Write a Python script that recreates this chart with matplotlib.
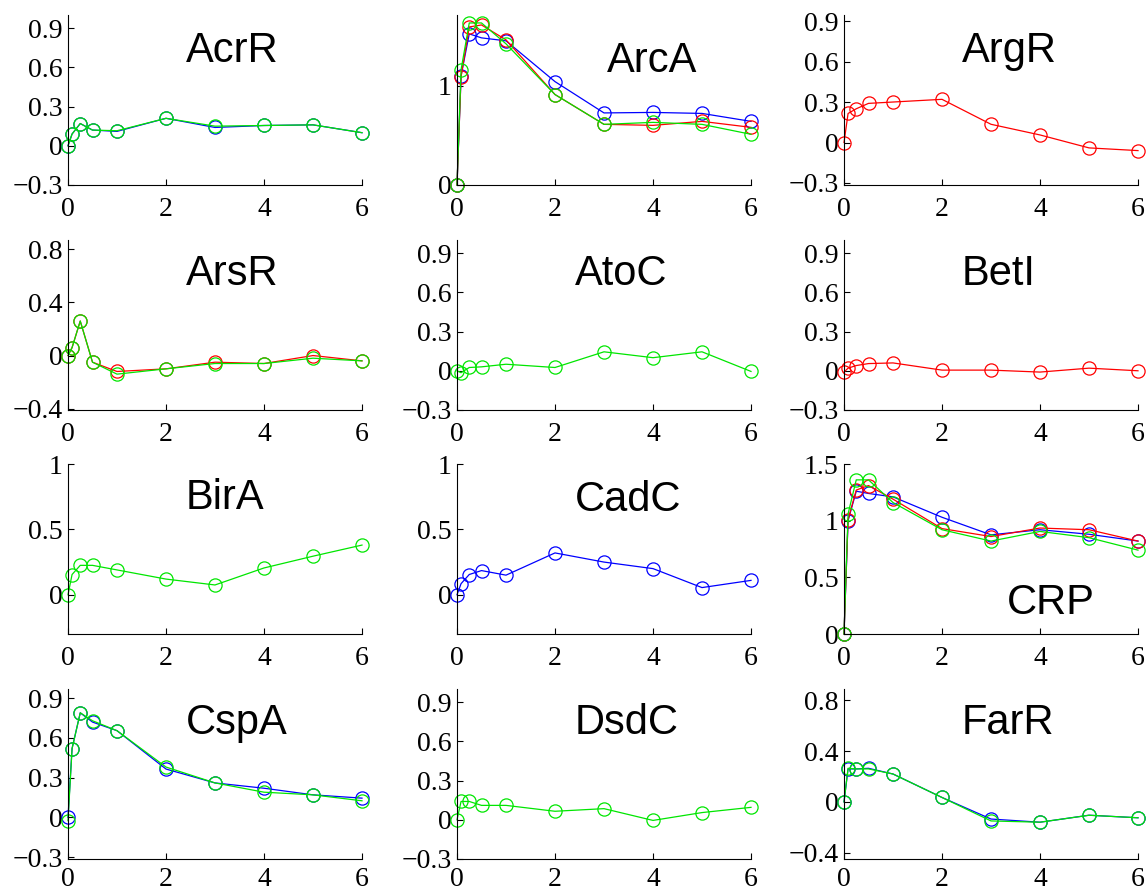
import matplotlib
matplotlib.use("Agg")
import matplotlib.pyplot as plt
from matplotlib.ticker import FuncFormatter

# ---- data ----
time_h = [0, 0.083, 0.25, 0.5, 1, 2, 3, 4, 5, 6]

names = ["AcrR", "ArcA", "ArgR", "ArsR", "AtoC", "BetI",
         "BirA", "CadC", "CRP", "CspA", "DsdC", "FarR"]

acrR_blue  = [0, 0.09, 0.17, 0.12, 0.11, 0.21, 0.14, 0.155, 0.16, 0.10]
acrR_green = [0, 0.09, 0.17, 0.12, 0.115, 0.21, 0.15, 0.155, 0.16, 0.10]

arcA_blue  = [0, 1.10, 1.52, 1.48, 1.45, 1.04, 0.725, 0.73, 0.72, 0.64]
arcA_red   = [0, 1.09, 1.59, 1.61, 1.46, 0.91, 0.61, 0.60, 0.64, 0.58]
arcA_green = [0, 1.16, 1.63, 1.63, 1.42, 0.91, 0.61, 0.63, 0.61, 0.51]

argR_red = [0, 0.215, 0.25, 0.29, 0.30, 0.32, 0.135, 0.056, -0.04, -0.06]

arsR_red   = [0, 0.06, 0.26, -0.05, -0.12, -0.10, -0.05, -0.06, 0.0, -0.04]
arsR_green = [0, 0.06, 0.26, -0.05, -0.14, -0.10, -0.06, -0.06, -0.02, -0.04]

atoC_green = [0, -0.015, 0.025, 0.03, 0.05, 0.025, 0.145, 0.10, 0.145, -0.005]

betI_red = [-0.01, 0.02, 0.04, 0.055, 0.06, 0.005, 0.005, -0.01, 0.02, 0.0]

birA_green = [0, 0.155, 0.225, 0.225, 0.19, 0.12, 0.075, 0.205, 0.295, 0.38]

cadC_blue = [0, 0.085, 0.155, 0.185, 0.15, 0.32, 0.25, 0.20, 0.055, 0.11]

crp_blue  = [0, 1.00, 1.26, 1.24, 1.21, 1.03, 0.875, 0.92, 0.88, 0.82]
crp_red   = [0, 1.01, 1.27, 1.31, 1.19, 0.93, 0.86, 0.935, 0.92, 0.82]
crp_green = [0, 1.06, 1.36, 1.36, 1.16, 0.92, 0.82, 0.905, 0.85, 0.74]

cspA_blue  = [0, 0.52, 0.79, 0.72, 0.655, 0.365, 0.26, 0.22, 0.17, 0.145]
cspA_green = [-0.025, 0.52, 0.79, 0.73, 0.655, 0.38, 0.26, 0.19, 0.17, 0.125]

dsdC_green = [0, 0.14, 0.14, 0.11, 0.11, 0.065, 0.085, -0.005, 0.055, 0.095]

farR_blue  = [0, 0.26, 0.26, 0.265, 0.22, 0.035, -0.135, -0.16, -0.105, -0.125]
farR_green = [0, 0.265, 0.26, 0.26, 0.22, 0.035, -0.15, -0.16, -0.105, -0.125]

x_ticks = [0, 2, 4, 6]

# ---- styling / layout ----
BLUE, RED, GREEN = "#0000ff", "#ff0000", "#00e600"

panels = [
    ("AcrR", [(BLUE, acrR_blue), (GREEN, acrR_green)], (-0.3, 1.0), [-0.3, 0, 0.3, 0.6, 0.9], (2.4, 0.79)),
    ("ArcA", [(BLUE, arcA_blue), (RED, arcA_red), (GREEN, arcA_green)], (0, 1.71), [0, 1], (3.05, 0.73)),
    ("ArgR", [(RED, argR_red)], (-0.315, 0.945), [-0.3, 0, 0.3, 0.6, 0.9], (2.4, 0.79)),
    ("ArsR", [(RED, arsR_red), (GREEN, arsR_green)], (-0.41, 0.87), [-0.4, 0, 0.4, 0.8], (2.4, 0.80)),
    ("AtoC", [(GREEN, atoC_green)], (-0.3, 1.0), [-0.3, 0, 0.3, 0.6, 0.9], (2.4, 0.80)),
    ("BetI", [(RED, betI_red)], (-0.3, 1.0), [-0.3, 0, 0.3, 0.6, 0.9], (2.4, 0.80)),
    ("BirA", [(GREEN, birA_green)], (-0.3, 1.0), [0, 0.5, 1], (2.4, 0.80)),
    ("CadC", [(BLUE, cadC_blue)], (-0.3, 1.0), [0, 0.5, 1], (2.4, 0.79)),
    ("CRP", [(BLUE, crp_blue), (RED, crp_red), (GREEN, crp_green)], (0, 1.5), [0, 0.5, 1, 1.5], (3.33, 0.18)),
    ("CspA", [(BLUE, cspA_blue), (GREEN, cspA_green)], (-0.315, 0.97), [-0.3, 0, 0.3, 0.6, 0.9], (2.4, 0.80)),
    ("DsdC", [(GREEN, dsdC_green)], (-0.3, 1.0), [-0.3, 0, 0.3, 0.6, 0.9], (2.4, 0.80)),
    ("FarR", [(BLUE, farR_blue), (GREEN, farR_green)], (-0.45, 0.89), [-0.4, 0, 0.4, 0.8], (2.4, 0.80)),
]

W, H = 1146, 892
fig = plt.figure(figsize=(W / 100, H / 100), dpi=100)
col_left = [68, 457, 844]
row_top = [15, 240, 464, 689]
ax_w, ax_h = 294, 170


def fmt(v, pos):
    s = "%g" % v
    return s.replace("-", "\u2212")


for i, (name, series, ylim, yt, tpos) in enumerate(panels):
    r, c = divmod(i, 3)
    left = col_left[c] / W
    bottom = 1 - (row_top[r] + ax_h) / H
    ax = fig.add_axes([left, bottom, ax_w / W, ax_h / H])
    for color, vals in series:
        ax.plot(time_h, vals, color=color, lw=0.9, marker="o", ms=9.5,
                mfc="none", mec=color, mew=0.9, clip_on=False)
    ax.set_xlim(0, 6)
    ax.set_ylim(*ylim)
    ax.set_xticks(x_ticks)
    ax.set_yticks(yt)
    ax.yaxis.set_major_formatter(FuncFormatter(fmt))
    ax.xaxis.set_major_formatter(FuncFormatter(fmt))
    for s in ("top", "right"):
        ax.spines[s].set_visible(False)
    for s in ("left", "bottom"):
        ax.spines[s].set_linewidth(0.8)
    ax.tick_params(direction="in", length=4, width=0.8, labelsize=20)
    ax.tick_params(axis="x", pad=(5.5 if r == 3 else 8.5))
    ax.tick_params(axis="y", pad=4)
    for lab in ax.get_xticklabels() + ax.get_yticklabels():
        lab.set_fontfamily("Liberation Serif")
    ax.text(tpos[0], tpos[1], name, transform=ax.get_xaxis_transform(),
            ha="left", va="center", fontsize=30, family="Liberation Sans")

fig.savefig("out.png", dpi=100)
